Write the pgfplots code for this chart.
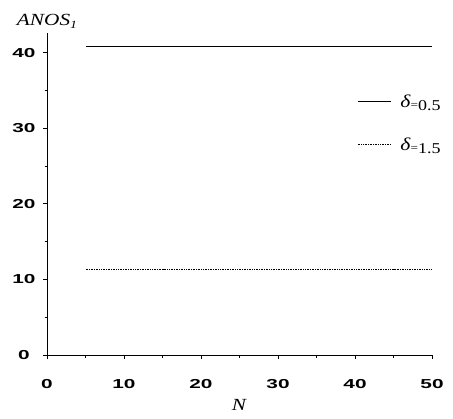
\documentclass[border=0pt]{standalone}
\usepackage{pgfplots}
\pgfplotsset{compat=1.18}
\usepackage{fontspec}
\setmainfont{Liberation Serif}
\newfontfamily\tickfont{Liberation Sans}
\newcommand\tl[1]{\scalebox{1.6}[1]{\tickfont\bfseries\fontsize{13}{13}\selectfont #1}}
\newcommand\dl[1]{\hspace{7pt}\scalebox{1.2}[1]{\fontsize{18}{18}\selectfont\textit{δ}\raisebox{-1pt}{\fontsize{11}{11}\selectfont=}\raisebox{-3pt}{\fontsize{15}{15}\selectfont #1}}}
\begin{document}
\begin{tikzpicture}
\begin{axis}[
  scale only axis, width=385pt, height=322pt,
  xmin=0, xmax=50, ymin=0, ymax=42.6,
  axis lines=left, axis line style={-, line width=1pt},
  xtick={0,10,...,50}, ytick={0,10,...,40},
  xticklabels={\tl{0},\tl{10},\tl{20},\tl{30},\tl{40},\tl{50}},
  yticklabels={\tl{0},\tl{10},\tl{20},\tl{30},\tl{40}},
  minor xtick={5,15,...,45}, minor ytick={5,15,25,35},
  tick align=outside, major tick length=4pt, minor tick length=2.5pt,
  tick style={black, line width=0.7pt},
  xticklabel style={yshift=-17pt},
  yticklabel style={anchor=center, xshift=-19pt},
  xlabel={\scalebox{1.25}[1]{\fontsize{17}{17}\selectfont\textit{N}}},
  xlabel style={at={(axis description cs:0.5,0)}, anchor=center, yshift=-50pt},
  clip=false,
  legend style={draw=none, fill=none, at={(rel axis cs:0.805,0.815)}, anchor=north west,
    row sep=25pt, font=\fontsize{15}{15}\selectfont, inner sep=0pt},
  legend cell align=left,
  legend image code/.code={\draw[#1] (0pt,0pt) -- (33pt,0pt);},
]
\addplot[black, line width=0.8pt] coordinates {(5,40.8) (10,40.8) (15,40.8) (20,40.8) (25,40.8) (30,40.8) (35,40.8) (40,40.8) (45,40.8) (50,40.8)};
\addlegendentry{\dl{0.5}}
\addplot[black, line width=1.2pt, dash pattern=on 0.8pt off 0.9pt] coordinates {(5,11.3) (10,11.3) (15,11.3) (20,11.3) (25,11.3) (30,11.3) (35,11.3) (40,11.3) (45,11.3) (50,11.3)};
\addlegendentry{\dl{1.5}}
\node[anchor=south, inner sep=0pt] at ([yshift=4pt]rel axis cs:0,1) {\scalebox{1.25}[1]{\fontsize{17}{17}\selectfont\textit{ANOS}\raisebox{-3pt}{\fontsize{11}{11}\selectfont\textit{1}}}};
\end{axis}
\pgfresetboundingbox
\path[use as bounding box] ([shift={(-47pt,-63pt)}]current axis.south west) rectangle ([shift={(21pt,33pt)}]current axis.north east);
\end{tikzpicture}
\end{document}
